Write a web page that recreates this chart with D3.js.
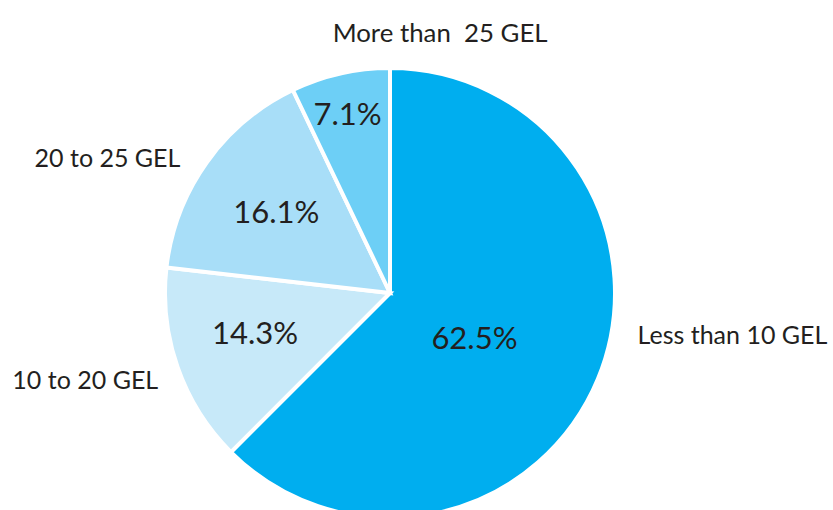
<!DOCTYPE html>
<html>
<head>
<meta charset="utf-8">
<script src="https://cdn.jsdelivr.net/npm/d3@7"></script>
<style>
  html, body { margin: 0; padding: 0; background: #fff; }
  svg text { font-family: Lato, "Open Sans", sans-serif; fill: #231f20; white-space: pre; }
</style>
</head>
<body>
<svg id="chart" width="833" height="510"></svg>
<script>
// Share of respondents by amount spent
const categories = ["Less than 10 GEL", "10 to 20 GEL", "20 to 25 GEL", "More than  25 GEL"];
const shares = [62.5, 14.3, 16.1, 7.1];
const colors = ["#00aeef", "#c7e9f9", "#a8def8", "#6dcff6"];

// label placement: value labels as [fraction of radius, angle shift in degrees];
// category labels as [angle in degrees, distance from centre]
const valueLabelPlace = [[0.425, 5.5], [0.625, 2.8], [0.62, 0], [0.82, -0.5]];
const categoryLabelPolar = [[97, 345], [254, 317], [295.5, 313], [10.9, 265]];

const width = 833, height = 510;
const cx = 390, cy = 293, radius = 225;

const svg = d3.select("#chart");
const g = svg.append("g").attr("transform", `translate(${cx},${cy})`);

const pie = d3.pie().sort(null).value(d => d.value);
const data = pie(categories.map((c, i) => ({ category: c, value: shares[i], i })));

const arc = d3.arc().innerRadius(0).outerRadius(radius);

g.selectAll("path.slice")
  .data(data)
  .join("path")
  .attr("class", "slice")
  .attr("d", arc)
  .attr("fill", d => colors[d.data.i])
  .attr("stroke", "#fff")
  .attr("stroke-width", 4)
  .attr("stroke-linejoin", "miter");

// value labels
g.selectAll("text.value")
  .data(data)
  .join("text")
  .attr("class", "value")
  .attr("transform", d => {
    const [f, shift] = valueLabelPlace[d.data.i];
    const r = radius * f;
    const a = (d.startAngle + d.endAngle) / 2 + shift * Math.PI / 180;
    return `translate(${Math.sin(a) * r},${-Math.cos(a) * r})`;
  })
  .attr("text-anchor", "middle")
  .attr("dy", "0.36em")
  .style("font-size", "31px")
  .text(d => d3.format(".1f")(d.data.value) + "%");

// category labels
g.selectAll("text.category")
  .data(data)
  .join("text")
  .attr("class", "category")
  .attr("transform", d => {
    const [deg, r] = categoryLabelPolar[d.data.i];
    const a = deg * Math.PI / 180;
    return `translate(${Math.sin(a) * r},${-Math.cos(a) * r})`;
  })
  .attr("text-anchor", "middle")
  .attr("dy", "0.36em")
  .style("font-size", d => d.data.i === 3 ? "25.8px" : "25px")
  .text(d => d.data.category);
</script>
</body>
</html>
